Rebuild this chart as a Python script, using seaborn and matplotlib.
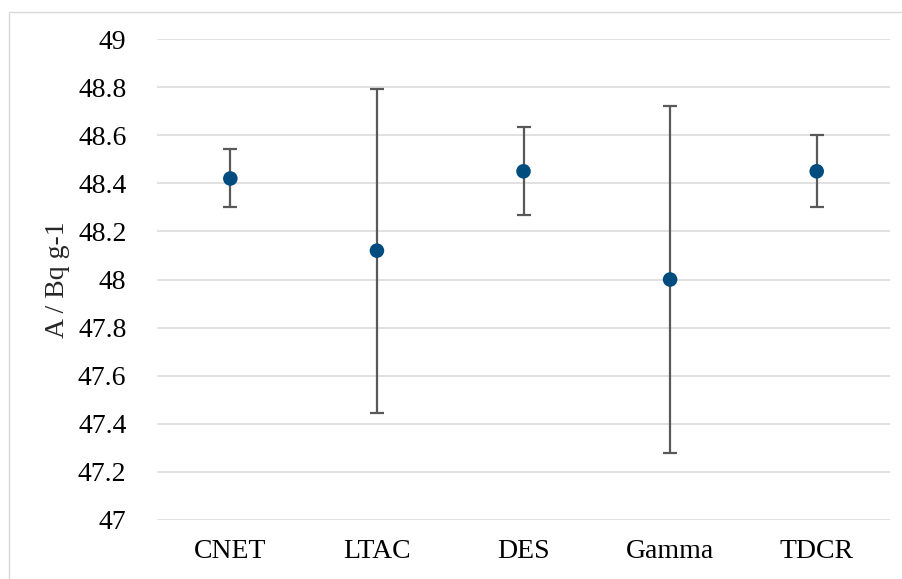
import matplotlib
matplotlib.use("Agg")
import matplotlib.pyplot as plt
import seaborn as sns
import pandas as pd
from matplotlib.patches import Rectangle

methods = ["CNET", "LTAC", "DES", "Gamma", "TDCR"]
activity = [48.42, 48.12, 48.45, 48.00, 48.45]
upper = [48.543, 48.793, 48.635, 48.721, 48.60]
lower = [48.30, 47.447, 48.267, 47.28, 48.30]
yticks = [47, 47.2, 47.4, 47.6, 47.8, 48, 48.2, 48.4, 48.6, 48.8, 49]
ytick_labels = ["47", "47.2", "47.4", "47.6", "47.8", "48", "48.2", "48.4", "48.6", "48.8", "49"]

sns.set_theme(style="white")
plt.rcParams["font.family"] = ["Liberation Serif", "DejaVu Serif"]

df = pd.DataFrame({"method": methods, "A": activity})

fig = plt.figure(figsize=(9.03, 5.79), dpi=100)
ax = fig.add_axes([0.1739, 0.1019, 0.8117, 0.8307])

fig.patches.append(Rectangle((9 / 903, -0.01), 1.0, 1 - 12 / 579 + 0.01,
                             transform=fig.transFigure, fill=False,
                             edgecolor="#D9D9D9", linewidth=1.0, zorder=-1))

pos = list(range(len(methods)))
yerr = [[a - l for a, l in zip(activity, lower)], [u - a for a, u in zip(activity, upper)]]
ax.errorbar(pos, activity, yerr=yerr, fmt="none", ecolor="#595959",
            elinewidth=1.6, capsize=5, capthick=1.6, zorder=3)
sns.scatterplot(data=df, x="method", y="A", ax=ax, color="#004C7F", s=110,
                edgecolor="none", zorder=4)

ax.set_xlim(-0.5, len(methods) - 0.5)
ax.set_ylim(47, 49)
ax.set_yticks(yticks)
ax.set_yticklabels(ytick_labels)
ax.yaxis.grid(True, color="#D9D9D9", linewidth=1.1)
ax.xaxis.grid(False)
ax.set_axisbelow(True)
for s in ax.spines.values():
    s.set_visible(False)
ax.tick_params(axis="both", length=0, labelsize=20, colors="black")
ax.tick_params(axis="y", pad=22)
ax.tick_params(axis="x", pad=14)
ax.set_xlabel("")
ax.set_ylabel("A / Bq g-1", fontsize=20, labelpad=6)

fig.savefig("out.png", dpi=100)
